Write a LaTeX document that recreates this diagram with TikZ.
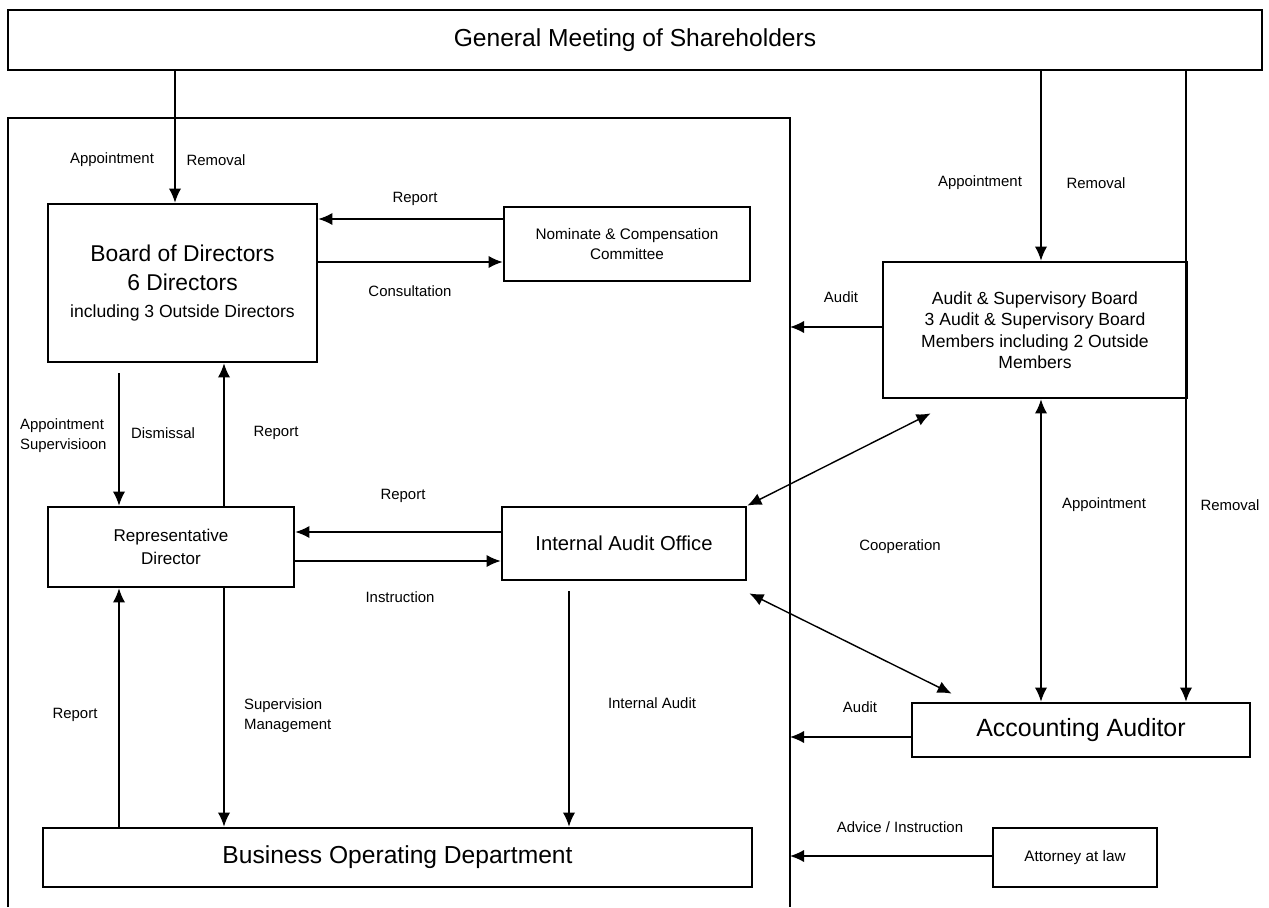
\documentclass[tikz,border=0pt]{standalone}
\usepackage{fontspec}
\setmainfont{Liberation Sans}
\usetikzlibrary{calc,arrows.meta}

\newlength{\pxu}
\setlength{\pxu}{0.02cm}

\tikzset{
  box/.style={draw, line width=1.6pt, align=center, inner sep=2pt},
  lbl/.style={font=\fontsize{8.5}{11.4}\selectfont, align=center, inner sep=1pt},
  link/.style={line width=0.8pt}
}

\begin{document}
\begin{tikzpicture}[x=0.02cm, y=-0.02cm, >={Latex[length=8pt,width=7pt]}]
\useasboundingbox (0,0) rectangle (1269,907);

% company frame
\coordinate (fr) at (790,118);
\draw[link] (8,907) |- (fr) -- (790,907);

% boxes
\node[box, minimum width=1254\pxu, minimum height=60\pxu, font=\fontsize{14}{17}\selectfont] (gm) at (635,40) {General Meeting of Shareholders};
\node[box, minimum width=269\pxu, minimum height=158\pxu, font=\fontsize{13}{16.5}\selectfont] (bod) at (182.5,283) {Board of Directors\\6 Directors\\[-1pt]{\fontsize{10}{12}\selectfont including 3 Outside Directors}};
\node[box, minimum width=246\pxu, minimum height=74\pxu, font=\fontsize{8.7}{11.4}\selectfont] (ncc) at (627,244) {Nominate \& Compensation\\Committee};
\node[box, minimum width=304\pxu, minimum height=136\pxu, font=\fontsize{10}{12.2}\selectfont] (asb) at (1035,330) {Audit \& Supervisory Board\\3 Audit \& Supervisory Board\\Members including 2 Outside\\Members};
\node[box, minimum width=244\pxu, minimum height=73\pxu, font=\fontsize{11.5}{14}\selectfont] (iao) at (624,543.5) {Internal Audit Office};
\node[box, minimum width=246\pxu, minimum height=80\pxu, font=\fontsize{9.7}{13}\selectfont] (rd) at (171,547) {Representative\\Director};
\node[box, minimum width=338\pxu, minimum height=54\pxu, font=\fontsize{14.2}{17}\selectfont] (aa) at (1081,730) {Accounting Auditor};
\node[box, minimum width=709\pxu, minimum height=59\pxu, font=\fontsize{14}{17}\selectfont] (bdp) at (397.5,857.5) {Business Operating Department};
\node[box, minimum width=164\pxu, minimum height=59\pxu, font=\fontsize{8.7}{11}\selectfont] (att) at (1075,857.5) {Attorney at law};

% columns and rows of the connectors
\coordinate (ca) at (175,0);
\coordinate (cb) at (1041,0);
\coordinate (cc) at (1186,0);
\coordinate (ce) at (119,0);
\coordinate (cf) at (224,0);
\coordinate (cg) at (569,0);
\coordinate (ra) at (0,219);
\coordinate (rb) at (0,262);
\coordinate (rc) at (0,327);
\coordinate (rd1) at (0,532);
\coordinate (re) at (0,561);
\coordinate (rf) at (0,737);
\coordinate (rg) at (0,856);

% connectors
\draw[link,->] (gm.south -| ca) -- (bod.north -| ca);
\draw[link,->] (gm.south -| cb) -- (asb.north -| cb);
\draw[link,->] (gm.south -| cc) -- (aa.north -| cc);
\draw[link,<->] (asb.south -| cb) -- (aa.north -| cb);
\draw[link,->] (ncc.west |- ra) -- (bod.east |- ra);
\draw[link,->] (bod.east |- rb) -- (ncc.west |- rb);
\draw[link,->] (asb.west |- rc) -- (fr |- rc);
\draw[link,->,shorten <=5.7pt] (bod.south -| ce) -- (rd.north -| ce);
\draw[link,->] (rd.north -| cf) -- (bod.south -| cf);
\draw[link,->] (iao.west |- rd1) -- (rd.east |- rd1);
\draw[link,->] (rd.east |- re) -- (iao.west |- re);
\draw[link,->] (bdp.north -| ce) -- (rd.south -| ce);
\draw[link,->] (rd.south -| cf) -- (bdp.north -| cf);
\draw[link,->,shorten <=5.7pt] (iao.south -| cg) -- (bdp.north -| cg);
\draw[link,->] (aa.west |- rf) -- (fr |- rf);
\draw[link,->] (att.west |- rg) -- (fr |- rg);
\draw[link,<->] (iao.north east) -- ($(asb.south west)+(49,14)$);
\draw[link,<->] ($(iao.south east)+(2,12)$) -- ($(aa.north west)+(41,-8)$);

% labels
\node[lbl] (l1) at (112,160) {Appointment};
\node[lbl] (l2) at (216,160) {Removal};
\node[lbl] (l3) at (415,199) {Report};
\node[lbl] (l4) at (410,291) {Consultation};
\node[lbl] (l5) at (980,183) {Appointment};
\node[lbl] (l6) at (1096,183) {Removal};
\node[lbl] (l7) at (841,297) {Audit};
\node[lbl, align=left, anchor=west] (l8) at (18,436) {Appointment\\Supervisioon};
\node[lbl] (l9) at (163,433) {Dismissal};
\node[lbl] (l10) at (276,433) {Report};
\node[lbl] (l11) at (403,496) {Report};
\node[lbl] (l12) at (400,597) {Instruction};
\node[lbl] (l13) at (75,715) {Report};
\node[lbl, align=left, anchor=west] (l14) at (242,716) {Supervision\\Management};
\node[lbl] (l15) at (652,703) {Internal Audit};
\node[lbl] (l16) at (900,547) {Cooperation};
\node[lbl] (l17) at (1104,505) {Appointment};
\node[lbl] (l18) at (1230,505) {Removal};
\node[lbl] (l19) at (860,707) {Audit};
\node[lbl] (l20) at (900,827) {Advice / Instruction};
\end{tikzpicture}
\end{document}
